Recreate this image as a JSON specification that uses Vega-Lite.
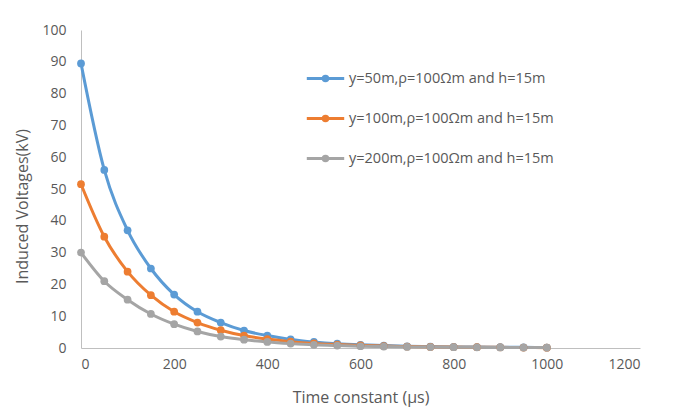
{
  "$schema": "https://vega.github.io/schema/vega-lite/v6.json",
  "width": 559,
  "height": 318,
  "autosize": {"type": "none"},
  "padding": {"left": 81, "top": 30, "right": 51, "bottom": 67},
  "background": "white",
  "config": {
    "font": "Open Sans",
    "view": {"stroke": null},
    "axis": {"labelColor": "#595959", "titleColor": "#595959", "labelFontSize": 14, "titleFontSize": 16, "titleFontWeight": "normal", "grid": false, "ticks": false, "domainColor": "#BFBFBF", "format": "d"}
  },
  "data": {"values": [
    {"t": 0, "s": "y=50m,ρ=100Ωm and h=15m", "v": 89.5},
    {"t": 50, "s": "y=50m,ρ=100Ωm and h=15m", "v": 56},
    {"t": 100, "s": "y=50m,ρ=100Ωm and h=15m", "v": 37},
    {"t": 150, "s": "y=50m,ρ=100Ωm and h=15m", "v": 25},
    {"t": 200, "s": "y=50m,ρ=100Ωm and h=15m", "v": 16.8},
    {"t": 250, "s": "y=50m,ρ=100Ωm and h=15m", "v": 11.4},
    {"t": 300, "s": "y=50m,ρ=100Ωm and h=15m", "v": 8},
    {"t": 350, "s": "y=50m,ρ=100Ωm and h=15m", "v": 5.5},
    {"t": 400, "s": "y=50m,ρ=100Ωm and h=15m", "v": 3.9},
    {"t": 450, "s": "y=50m,ρ=100Ωm and h=15m", "v": 2.7},
    {"t": 500, "s": "y=50m,ρ=100Ωm and h=15m", "v": 1.9},
    {"t": 550, "s": "y=50m,ρ=100Ωm and h=15m", "v": 1.35},
    {"t": 600, "s": "y=50m,ρ=100Ωm and h=15m", "v": 1.0},
    {"t": 650, "s": "y=50m,ρ=100Ωm and h=15m", "v": 0.75},
    {"t": 700, "s": "y=50m,ρ=100Ωm and h=15m", "v": 0.55},
    {"t": 750, "s": "y=50m,ρ=100Ωm and h=15m", "v": 0.45},
    {"t": 800, "s": "y=50m,ρ=100Ωm and h=15m", "v": 0.35},
    {"t": 850, "s": "y=50m,ρ=100Ωm and h=15m", "v": 0.3},
    {"t": 900, "s": "y=50m,ρ=100Ωm and h=15m", "v": 0.25},
    {"t": 950, "s": "y=50m,ρ=100Ωm and h=15m", "v": 0.2},
    {"t": 1000, "s": "y=50m,ρ=100Ωm and h=15m", "v": 0.15},
    {"t": 0, "s": "y=100m,ρ=100Ωm and h=15m", "v": 51.5},
    {"t": 50, "s": "y=100m,ρ=100Ωm and h=15m", "v": 35},
    {"t": 100, "s": "y=100m,ρ=100Ωm and h=15m", "v": 24},
    {"t": 150, "s": "y=100m,ρ=100Ωm and h=15m", "v": 16.6},
    {"t": 200, "s": "y=100m,ρ=100Ωm and h=15m", "v": 11.4},
    {"t": 250, "s": "y=100m,ρ=100Ωm and h=15m", "v": 8},
    {"t": 300, "s": "y=100m,ρ=100Ωm and h=15m", "v": 5.6},
    {"t": 350, "s": "y=100m,ρ=100Ωm and h=15m", "v": 3.9},
    {"t": 400, "s": "y=100m,ρ=100Ωm and h=15m", "v": 2.8},
    {"t": 450, "s": "y=100m,ρ=100Ωm and h=15m", "v": 2.0},
    {"t": 500, "s": "y=100m,ρ=100Ωm and h=15m", "v": 1.45},
    {"t": 550, "s": "y=100m,ρ=100Ωm and h=15m", "v": 1.1},
    {"t": 600, "s": "y=100m,ρ=100Ωm and h=15m", "v": 0.8},
    {"t": 650, "s": "y=100m,ρ=100Ωm and h=15m", "v": 0.6},
    {"t": 700, "s": "y=100m,ρ=100Ωm and h=15m", "v": 0.45},
    {"t": 750, "s": "y=100m,ρ=100Ωm and h=15m", "v": 0.35},
    {"t": 800, "s": "y=100m,ρ=100Ωm and h=15m", "v": 0.3},
    {"t": 850, "s": "y=100m,ρ=100Ωm and h=15m", "v": 0.25},
    {"t": 900, "s": "y=100m,ρ=100Ωm and h=15m", "v": 0.2},
    {"t": 950, "s": "y=100m,ρ=100Ωm and h=15m", "v": 0.15},
    {"t": 1000, "s": "y=100m,ρ=100Ωm and h=15m", "v": 0.1},
    {"t": 0, "s": "y=200m,ρ=100Ωm and h=15m", "v": 30},
    {"t": 50, "s": "y=200m,ρ=100Ωm and h=15m", "v": 21},
    {"t": 100, "s": "y=200m,ρ=100Ωm and h=15m", "v": 15.2},
    {"t": 150, "s": "y=200m,ρ=100Ωm and h=15m", "v": 10.7},
    {"t": 200, "s": "y=200m,ρ=100Ωm and h=15m", "v": 7.5},
    {"t": 250, "s": "y=200m,ρ=100Ωm and h=15m", "v": 5.2},
    {"t": 300, "s": "y=200m,ρ=100Ωm and h=15m", "v": 3.6},
    {"t": 350, "s": "y=200m,ρ=100Ωm and h=15m", "v": 2.6},
    {"t": 400, "s": "y=200m,ρ=100Ωm and h=15m", "v": 1.9},
    {"t": 450, "s": "y=200m,ρ=100Ωm and h=15m", "v": 1.4},
    {"t": 500, "s": "y=200m,ρ=100Ωm and h=15m", "v": 1.0},
    {"t": 550, "s": "y=200m,ρ=100Ωm and h=15m", "v": 0.75},
    {"t": 600, "s": "y=200m,ρ=100Ωm and h=15m", "v": 0.55},
    {"t": 650, "s": "y=200m,ρ=100Ωm and h=15m", "v": 0.45},
    {"t": 700, "s": "y=200m,ρ=100Ωm and h=15m", "v": 0.35},
    {"t": 750, "s": "y=200m,ρ=100Ωm and h=15m", "v": 0.3},
    {"t": 800, "s": "y=200m,ρ=100Ωm and h=15m", "v": 0.25},
    {"t": 850, "s": "y=200m,ρ=100Ωm and h=15m", "v": 0.2},
    {"t": 900, "s": "y=200m,ρ=100Ωm and h=15m", "v": 0.18},
    {"t": 950, "s": "y=200m,ρ=100Ωm and h=15m", "v": 0.15},
    {"t": 1000, "s": "y=200m,ρ=100Ωm and h=15m", "v": 0.12}
  ]},
  "encoding": {
    "x": {"field": "t", "type": "quantitative", "title": "Time constant (µs)",
          "scale": {"domain": [0, 1200], "nice": false},
          "axis": {"values": [0, 200, 400, 600, 800, 1000, 1200], "labelPadding": 9, "titlePadding": 18}},
    "y": {"field": "v", "type": "quantitative", "title": "Induced Voltages(kV)",
          "scale": {"domain": [0, 100], "nice": false},
          "axis": {"values": [0, 10, 20, 30, 40, 50, 60, 70, 80, 90, 100], "labelPadding": 15, "titlePadding": 11, "titleY": 176}},
    "color": {"field": "s", "type": "nominal",
              "scale": {"domain": ["y=50m,ρ=100Ωm and h=15m", "y=100m,ρ=100Ωm and h=15m", "y=200m,ρ=100Ωm and h=15m"],
                        "range": ["#5B9BD5", "#ED7D31", "#A5A5A5"]},
              "sort": null,
              "legend": {"title": null, "orient": "none", "legendX": 224, "legendY": 28,
                         "symbolType": "M-1,0H1M-0.12,0A0.12,0.12 0 1,0 0.12,0A0.12,0.12 0 1,0 -0.12,0",
                         "symbolSize": 1400, "symbolStrokeWidth": 3, "symbolFillColor": "transparent",
                         "labelFontSize": 14.5, "labelLimit": 400, "labelColor": "#595959", "rowPadding": 11, "labelOffset": 3}}
  },
  "layer": [
    {"mark": {"type": "line", "interpolate": "monotone", "strokeWidth": 3}},
    {"mark": {"type": "point", "filled": true, "size": 60, "opacity": 1}}
  ]
}
